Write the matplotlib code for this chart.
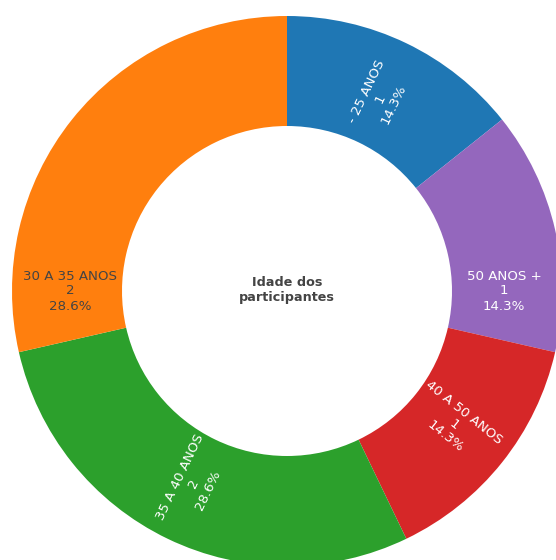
import matplotlib
matplotlib.use("Agg")
import matplotlib.pyplot as plt
import numpy as np

# Age groups of participants, clockwise from 12 o'clock
labels = ["- 25 ANOS", "50 ANOS +", "40 A 50 ANOS", "35 A 40 ANOS", "30 A 35 ANOS"]
counts = [1, 1, 1, 2, 2]
colors = ["#1f77b4", "#9467bd", "#d62728", "#2ca02c", "#ff7f0e"]
text_colors = ["white", "white", "white", "white", "#444444"]
# 'radial' labels follow the slice direction, 'horizontal' ones stay flat
orientation = ["radial", "horizontal", "radial", "radial", "horizontal"]
center_title = "Idade dos\nparticipantes"

W, H = 556, 560
fig = plt.figure(figsize=(W / 100, H / 100), dpi=100)
ax = fig.add_axes([0, 0, 1, 1])

cx, cy = 287, -291
R = 275
hole = 0.6

wedges, _ = ax.pie(counts, colors=colors, startangle=90, counterclock=False,
                   center=(cx, cy), radius=R, frame=True,
                   wedgeprops=dict(width=R * (1 - hole), linewidth=0))
ax.set_xlim(0, W)
ax.set_ylim(-H, 0)
ax.set_aspect("equal")
ax.axis("off")

total = sum(counts)
mid_r = R * (1 + hole) / 2
for w, lab, n, tc, ori in zip(wedges, labels, counts, text_colors, orientation):
    ang = (w.theta1 + w.theta2) / 2
    pct = 100 * n / total
    txt = f"{lab}\n{n}\n{pct:.1f}%"
    if ori == "horizontal":
        # flat labels sit on the horizontal through the centre, on the slice's side
        a = 0.0 if np.cos(np.radians(ang)) > 0 else 180.0
        r = mid_r - 3
        rot = 0
    else:
        a = ang
        r = mid_r - 6
        rot = ang if np.cos(np.radians(ang)) >= 0 else ang + 180
    x = cx + r * np.cos(np.radians(a))
    y = cy + r * np.sin(np.radians(a))
    ax.text(x, y, txt, ha="center", va="center", multialignment="center",
            rotation=rot, rotation_mode="anchor", color=tc,
            fontsize=9.6, family="DejaVu Sans", linespacing=1.2)

ax.text(cx, cy + 1, center_title, ha="center", va="center", color="#444444",
        fontsize=9.2, fontweight="bold", family="DejaVu Sans", linespacing=1.15)

fig.savefig("out.png", dpi=100, facecolor="white")
